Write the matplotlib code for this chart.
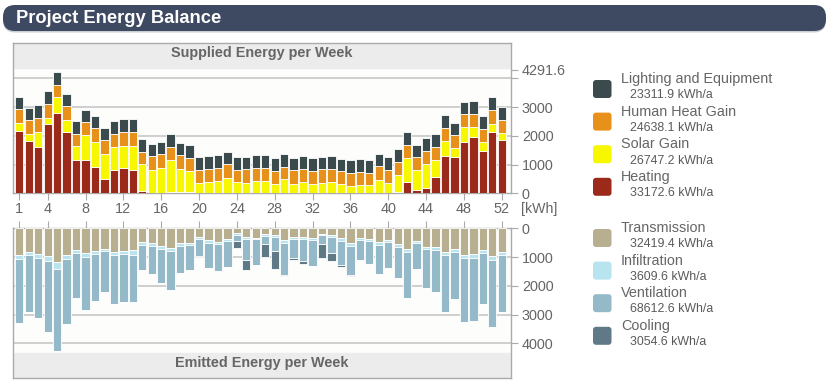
# Project energy balance: supplied vs emitted energy per week
import numpy as np
import matplotlib.pyplot as plt
from matplotlib.patches import FancyBboxPatch

plt.rcParams['font.family'] = ['Liberation Sans', 'DejaVu Sans']

weeks = np.arange(1, 53)

# supplied energy per week [kWh]
heating = [2157, 1811, 1603, 2411, 2780, 2145, 1153, 1153, 911, 507,
           819, 877, 807, 81, 20, 10, 50, 46, 45, 0,
           0, 0, 0, 0, 0, 0, 0, 0, 0, 0,
           0, 0, 0, 0, 0, 0, 0, 0, 0, 0,
           46, 404, 104, 185, 554, 1303, 1269, 1788, 1961, 1465,
           2134, 1845]
solar = [288, 265, 542, 219, 565, 404, 485, 877, 877, 866,
         807, 772, 842, 922, 799, 878, 1106, 807, 720, 346,
         404, 438, 542, 381, 369, 415, 415, 334, 484, 323,
         392, 323, 369, 392, 323, 254, 300, 277, 473, 369,
         600, 830, 692, 842, 611, 508, 300, 507, 346, 323,
         277, 254]
human = [485, 473, 473, 461, 438, 473, 427, 438, 473, 472,
         450, 473, 473, 450, 484, 473, 462, 485, 473, 461,
         449, 450, 473, 438, 473, 450, 450, 450, 439, 484,
         461, 461, 473, 461, 438, 461, 438, 438, 473, 450,
         438, 450, 450, 449, 461, 450, 449, 450, 450, 450,
         496, 462]
lighting = [426, 427, 438, 450, 450, 438, 438, 439, 426, 439,
            438, 450, 450, 450, 427, 438, 432, 427, 438, 450,
            450, 450, 427, 438, 438, 450, 450, 439, 450, 427,
            450, 439, 438, 450, 439, 438, 438, 438, 438, 438,
            462, 450, 438, 439, 450, 450, 439, 438, 449, 438,
            426, 438]

# emitted energy per week [kWh]
transmission = [915, 823, 892, 973, 1170, 939, 742, 869, 800, 707,
                823, 788, 753, 487, 521, 626, 684, 528, 498, 301,
                417, 475, 359, 151, 313, 336, 209, 243, 417, 301,
                301, 324, 197, 220, 336, 521, 348, 359, 487, 394,
                556, 730, 440, 660, 660, 823, 707, 915, 904, 753,
                962, 823]
infiltration = [139, 116, 128, 151, 232, 115, 104, 128, 104, 81,
                104, 104, 162, 92, 93, 104, 116, 82, 70, 81,
                81, 81, 81, 69, 46, 46, 58, 47, 81, 70,
                70, 82, 46, 70, 93, 82, 69, 81, 81, 93,
                81, 104, 81, 70, 82, 116, 104, 128, 116, 116,
                139, 104]
ventilation = [2237, 1969, 2097, 2480, 2874, 2260, 1587, 1854, 1622, 1425,
               1703, 1657, 1634, 881, 962, 1170, 1355, 943, 892, 580,
               869, 939, 904, 232, 753, 881, 278, 486, 1113, 660,
               776, 915, 313, 567, 834, 1008, 672, 811, 1020, 892,
               1090, 1588, 881, 1344, 1471, 1969, 1634, 2213, 2201, 1773,
               2329, 1981]
cooling = [0, 0, 0, 0, 0, 0, 0, 0, 0, 0,
           0, 0, 0, 0, 0, 0, 0, 0, 0, 23,
           0, 0, 0, 220, 348, 23, 440, 626, 46, 58,
           81, 0, 464, 278, 70, 34, 23, 0, 0, 0,
           0, 0, 0, 0, 0, 0, 0, 0, 0, 0,
           0, 0]

supplied_names = ['Lighting and Equipment', 'Human Heat Gain', 'Solar Gain', 'Heating']
supplied_totals = ['23311.9', '24638.1', '26747.2', '33172.6']
supplied_colors = ['#3b4a4d', '#e8911a', '#f7f700', '#9c2a1b']
emitted_names = ['Transmission', 'Infiltration', 'Ventilation', 'Cooling']
emitted_totals = ['32419.4', '3609.6', '68612.6', '3054.6']
emitted_colors = ['#b8ae90', '#b8e4f0', '#94b9c8', '#5f7a86']

week_ticks = [1, 4, 8, 12, 16, 20, 24, 28, 32, 36, 40, 44, 48, 52]
top_ticks = [0, 1000, 2000, 3000, 4000, 4291.6]
top_tick_labels = ['0', '1000', '2000', '3000', '', '4291.6']
bottom_ticks = [0, 1000, 2000, 3000, 4000]

W, H = 835, 382
fig = plt.figure(figsize=(W / 100, H / 100), dpi=100)
fig.patch.set_facecolor('white')

# background layer in pixel coordinates (title bar, legend)
bg = fig.add_axes([0, 0, 1, 1])
bg.set_xlim(0, W)
bg.set_ylim(H, 0)
bg.axis('off')

bg.add_patch(FancyBboxPatch((3, 6.5), 823, 26, boxstyle='round,pad=0,rounding_size=12',
                            facecolor='#c9cdd4', edgecolor='none'))
bg.add_patch(FancyBboxPatch((3, 5), 823, 26, boxstyle='round,pad=0,rounding_size=12',
                            facecolor='#3e4962', edgecolor='none'))
bg.text(16, 18.5, 'Project Energy Balance', color='white', fontsize=13.2,
        fontweight='bold', ha='left', va='center')

gray = '#666666'
spine_col = '#aaaaaa'
grid_col = '#c8c8c8'
bar_w = 0.88

# top chart: supplied energy
ax1 = fig.add_axes([12.7 / W, 1 - 193.3 / H, 498 / W, 150.3 / H])
ax1.set_facecolor('#fdfdfb')
bottom = np.zeros(52)
for vals, col in zip([heating, solar, human, lighting], supplied_colors[::-1]):
    ax1.bar(weeks, vals, bottom=bottom, width=bar_w, color=col,
            edgecolor='white', linewidth=0.6, zorder=3)
    bottom += np.array(vals)
ax1.set_xlim(0.3, 52.95)
ax1.set_ylim(0, 5228)
ax1.axhspan(4370, 5228, color='#ececec', zorder=1)
ax1.text(0.5, 0.935, 'Supplied Energy per Week', transform=ax1.transAxes,
         ha='center', va='center', fontsize=10.4, fontweight='bold', color=gray)
for v in [1000, 2000, 3000, 4000]:
    ax1.axhline(v, color=grid_col, lw=1.2, zorder=2)
ax1.set_xticks(week_ticks)
ax1.set_yticks(top_ticks)
ax1.set_yticklabels(top_tick_labels)
ax1.yaxis.tick_right()
ax1.tick_params(axis='y', length=5, color=spine_col, labelcolor=gray, labelsize=10.4, pad=3)
ax1.tick_params(axis='x', length=5, color=spine_col, labelcolor=gray, labelsize=10.4, pad=1)

# bottom chart: emitted energy (drawn downward)
ax2 = fig.add_axes([12.7 / W, 1 - 378.3 / H, 498 / W, 150 / H])
ax2.set_facecolor('#fdfdfb')
bottom = np.zeros(52)
for vals, col in zip([transmission, infiltration, ventilation, cooling], emitted_colors):
    ax2.bar(weeks, vals, bottom=bottom, width=bar_w, color=col,
            edgecolor='white', linewidth=0.6, zorder=3)
    bottom += np.array(vals)
ax2.set_xlim(0.3, 52.95)
ax2.set_ylim(5217, 0)
ax2.axhspan(4348, 5217, color='#ececec', zorder=1)
ax2.text(0.5, 0.105, 'Emitted Energy per Week', transform=ax2.transAxes,
         ha='center', va='center', fontsize=10.4, fontweight='bold', color=gray)
for v in [1000, 2000, 3000, 4000]:
    ax2.axhline(v, color=grid_col, lw=1.2, zorder=2)
ax2.set_xticks(week_ticks)
ax2.set_yticks(bottom_ticks)
ax2.yaxis.tick_right()
ax2.xaxis.tick_top()
ax2.tick_params(axis='x', length=5, color=spine_col, labeltop=False, labelbottom=False)
ax2.tick_params(axis='y', length=5, color=spine_col, labelcolor=gray, labelsize=10.4, pad=3)

for ax in (ax1, ax2):
    for sp in ax.spines.values():
        sp.set_color(spine_col)
        sp.set_linewidth(1)

bg.text(521, 209, '[kWh]', color=gray, fontsize=10.2, ha='left', va='center')

# legend
def legend_group(names, totals, colors, y0):
    for i, (name, total, col) in enumerate(zip(names, totals, colors)):
        y = y0 + i * 32.6
        bg.add_patch(FancyBboxPatch((593, y + 1), 18.5, 18, boxstyle='round,pad=0,rounding_size=3',
                                    facecolor=col, edgecolor='none'))
        bg.text(621, y, name, color=gray, fontsize=10.4, ha='left', va='center')
        bg.text(630.5, y + 16.3, total + ' kWh/a', color='#5a5a5a', fontsize=8.9,
                ha='left', va='center')

legend_group(supplied_names, supplied_totals, supplied_colors, 79)
legend_group(emitted_names, emitted_totals, emitted_colors, 228)

fig.savefig('out.png', dpi=100, facecolor='white')
